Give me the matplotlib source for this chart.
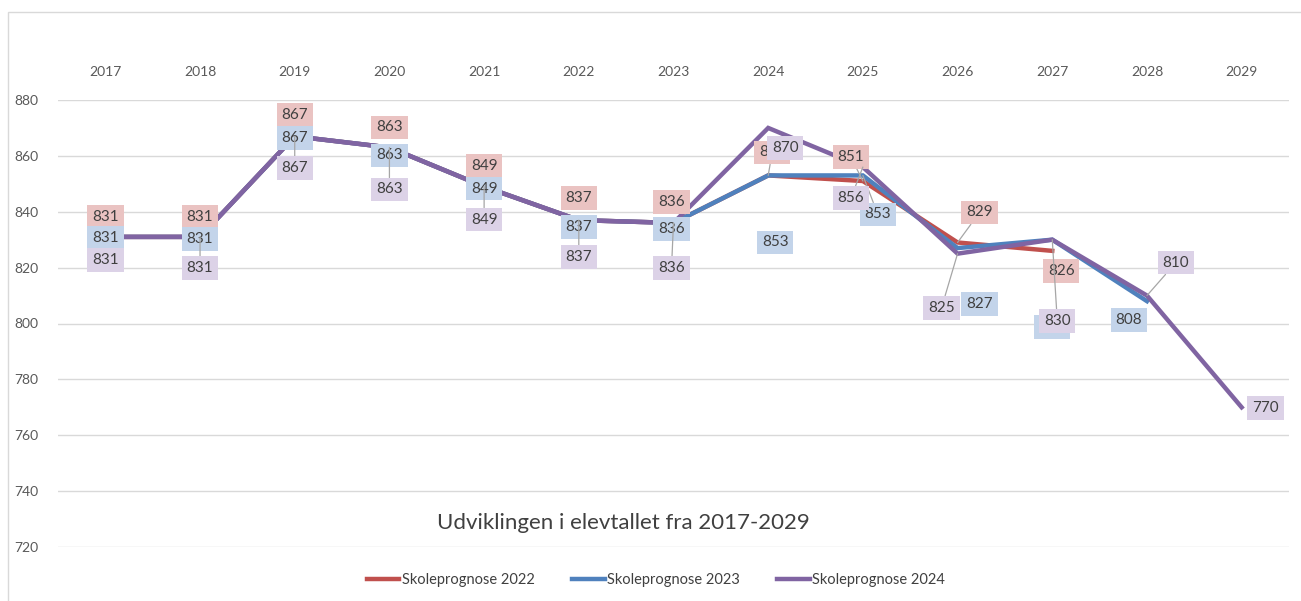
import matplotlib
matplotlib.use("Agg")
import matplotlib.pyplot as plt
from matplotlib.patches import Rectangle
import numpy as np

plt.rcParams['font.family'] = ['Lato', 'DejaVu Sans']

years = [2017, 2018, 2019, 2020, 2021, 2022, 2023, 2024, 2025, 2026, 2027, 2028, 2029]
prog_2022 = [831, 831, 867, 863, 849, 837, 836, 853, 851, 829, 826]
prog_2023 = [831, 831, 867, 863, 849, 837, 836, 853, 853, 827, 830, 808]
prog_2024 = [831, 831, 867, 863, 849, 837, 836, 870, 856, 825, 830, 810, 770]
names = ['Skoleprognose 2022', 'Skoleprognose 2023', 'Skoleprognose 2024']
title = 'Udviklingen i elevtallet fra 2017-2029'

# label offsets in pixels (x, y-down) as placed in the original
off_2022 = [(0, -20), (0, -20), (0, -21), (0, -20), (0, -21), (0, -22), (-2, -21),
            (4, -23), (-12, -24), (22, -30), (9, 20)]
off_2023 = [(0, 1), (0, 2), (0, 2), (0, 8), (0, 2), (0, 7), (-2, 6),
            (7, 67), (15, 39), (22, 56), (0, 87), (-18, 19)]
off_2024 = [(0, 23), (0, 31), (0, 32), (0, 42), (0, 33), (0, 37), (-2, 45),
            (17, 20), (-12, 31), (-16, 54), (5, 81), (29, -33), (24, 1)]
# which labels get a leader line
lead_2022 = [0, 0, 0, 0, 0, 0, 0, 1, 1, 1, 0]
lead_2023 = [0, 0, 0, 0, 0, 0, 0, 0, 1, 0, 0, 0]
lead_2024 = [0, 1, 1, 1, 1, 1, 1, 0, 1, 1, 1, 1, 0]

line_colors = ['#c0504d', '#4f81bd', '#8064a2']
box_colors = ['#eac3c2', '#c3d4ea', '#dcd2e7']

fig = plt.figure(figsize=(13.01, 6.01), dpi=100)
ax = fig.add_axes([58 / 1301, 1 - 547 / 601, 1231 / 1301, 447 / 601])

fig.patches.append(Rectangle((8 / 1301, -0.1), 1.2, 1 - 12 / 601 + 0.1, transform=fig.transFigure,
                             fill=False, edgecolor='#d9d9d9', lw=1))

series = [prog_2022, prog_2023, prog_2024]
offsets = [off_2022, off_2023, off_2024]
leaders = [lead_2022, lead_2023, lead_2024]
x = np.arange(len(years))

for vals, col in zip(series, line_colors):
    ax.plot(x[:len(vals)], vals, color=col, lw=3.2, solid_joinstyle='miter', zorder=3)

for k, (vals, offs, leads) in enumerate(zip(series, offsets, leaders)):
    for i, (v, (dx, dy), lead) in enumerate(zip(vals, offs, leads)):
        ax.annotate(str(v), xy=(x[i], v), xytext=(dx, -dy), textcoords='offset pixels',
                    ha='center', va='center', fontsize=11, color='#404040', zorder=5 + k,
                    bbox=dict(boxstyle='square,pad=0.32', fc=box_colors[k], ec='none'),
                    arrowprops=dict(arrowstyle='-', color='#a6a6a6', lw=0.9,
                                    shrinkA=0, shrinkB=0) if lead else None)

ax.set_xlim(-0.5, len(years) - 0.5)
ax.set_ylim(720, 880)
ax.set_yticks(np.arange(720, 881, 20))
ax.set_xticks(x)
ax.set_xticklabels([str(y) for y in years])
ax.xaxis.tick_top()
ax.tick_params(axis='x', length=0, pad=16, labelsize=10, labelcolor='#595959')
ax.tick_params(axis='y', length=0, pad=14, labelsize=10, labelcolor='#595959')
ax.grid(axis='y', color='#d9d9d9', lw=1)
ax.set_axisbelow(True)
for s in ax.spines.values():
    s.set_visible(False)

ax.text((623 - 58) / 1231, (547 - 523) / 447, title, transform=ax.transAxes,
        ha='center', va='center', fontsize=16, color='#404040')

handles = [plt.Line2D([], [], color=c, lw=3.2) for c in line_colors]
fig.legend(handles, names, loc='center', bbox_to_anchor=(656 / 1301, 1 - 580 / 601), ncol=3,
           frameon=False, fontsize=10.5, handlelength=2.2, handletextpad=0.15, columnspacing=2.6,
           labelcolor='#404040')

fig.savefig('out.png', dpi=100, facecolor='white')
